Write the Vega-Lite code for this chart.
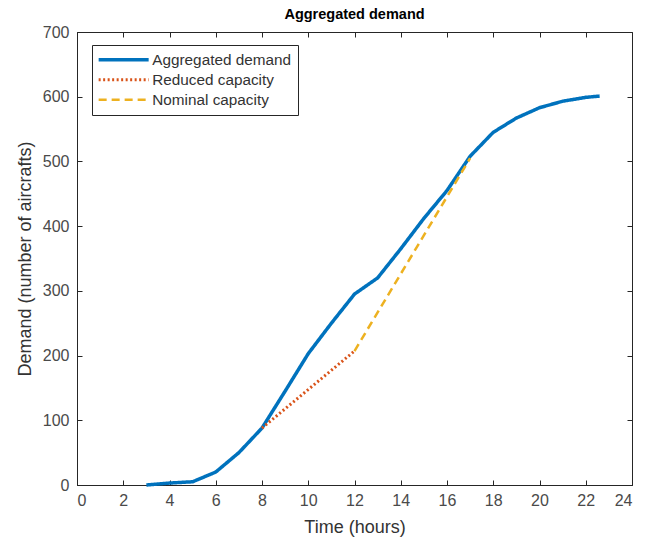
{
  "$schema": "https://vega.github.io/schema/vega-lite/v6.json",
  "autosize": {"type": "none"},
  "width": 555,
  "height": 453,
  "padding": {"left": 77, "top": 32, "right": 33, "bottom": 59},
  "background": "white",
  "title": {"text": "Aggregated demand", "font": "Liberation Sans", "fontSize": 14.5, "fontWeight": "bold", "color": "#000000", "offset": 2},
  "config": {
    "view": {"stroke": "#262626", "strokeWidth": 1},
    "axis": {"grid": false, "domainColor": "#262626", "tickColor": "#262626", "labelFont": "Liberation Sans", "titleFont": "Liberation Sans", "labelColor": "#4a4a4a", "titleColor": "#333333", "labelFontSize": 16, "titleFontSize": 18, "titleFontWeight": "normal", "tickSize": -5}
  },
  "data": {"values": [
    {"t": 3, "v": 0, "s": "Aggregated demand"},
    {"t": 4, "v": 3, "s": "Aggregated demand"},
    {"t": 5, "v": 5, "s": "Aggregated demand"},
    {"t": 6, "v": 20, "s": "Aggregated demand"},
    {"t": 7, "v": 50, "s": "Aggregated demand"},
    {"t": 8, "v": 88, "s": "Aggregated demand"},
    {"t": 9, "v": 145, "s": "Aggregated demand"},
    {"t": 10, "v": 203, "s": "Aggregated demand"},
    {"t": 11, "v": 250, "s": "Aggregated demand"},
    {"t": 12, "v": 295, "s": "Aggregated demand"},
    {"t": 13, "v": 320, "s": "Aggregated demand"},
    {"t": 14, "v": 365, "s": "Aggregated demand"},
    {"t": 15, "v": 412, "s": "Aggregated demand"},
    {"t": 16, "v": 455, "s": "Aggregated demand"},
    {"t": 17, "v": 508, "s": "Aggregated demand"},
    {"t": 18, "v": 545, "s": "Aggregated demand"},
    {"t": 19, "v": 567, "s": "Aggregated demand"},
    {"t": 20, "v": 583, "s": "Aggregated demand"},
    {"t": 21, "v": 593, "s": "Aggregated demand"},
    {"t": 22, "v": 599, "s": "Aggregated demand"},
    {"t": 22.6, "v": 601, "s": "Aggregated demand"},
    {"t": 8, "v": 88, "s": "Reduced capacity"},
    {"t": 12, "v": 207, "s": "Reduced capacity"},
    {"t": 12, "v": 207, "s": "Nominal capacity"},
    {"t": 17, "v": 505, "s": "Nominal capacity"}
  ]},
  "layer": [
    {
      "mark": {"type": "line", "strokeCap": "butt"},
      "encoding": {
        "x": {"field": "t", "type": "quantitative", "scale": {"domain": [0, 24], "nice": false}, "axis": {"values": [0,2,4,6,8,10,12,14,16,18,20,22,24], "title": "Time (hours)", "labelPadding": 12, "titlePadding": 10}},
        "y": {"field": "v", "type": "quantitative", "scale": {"domain": [0, 700], "nice": false}, "axis": {"values": [0,100,200,300,400,500,600,700], "title": "Demand (number of aircrafts)", "labelPadding": 13, "titlePadding": 8}},
        "detail": {"field": "s"},
        "color": {"field": "s", "type": "nominal", "scale": {"domain": ["Aggregated demand", "Reduced capacity", "Nominal capacity"], "range": ["#0072BD", "#D95319", "#EDB120"]},
          "legend": {"title": null, "orient": "none", "legendX": 15, "legendY": 13, "symbolType": "M-1.6,0H8.4", "symbolSize": 100, "symbolStrokeWidth": 3, "symbolFillColor": "transparent", "labelFont": "Liberation Sans", "labelFontSize": 15.3, "labelColor": "#333333", "strokeColor": "#262626", "fillColor": "white", "padding": 7, "rowPadding": 4, "labelOffset": 38}},
        "strokeDash": {"field": "s", "type": "nominal", "scale": {"domain": ["Aggregated demand", "Reduced capacity", "Nominal capacity"], "range": [[1, 0], [2, 2.5], [8, 5]]}},
        "strokeWidth": {"field": "s", "type": "nominal", "scale": {"domain": ["Aggregated demand", "Reduced capacity", "Nominal capacity"], "range": [3.5, 2.5, 2.5]}, "legend": null}
      }
    },
    {
      "mark": {"type": "point", "opacity": 0},
      "encoding": {
        "x": {"field": "t", "type": "quantitative", "scale": {"domain": [0, 24], "nice": false}, "axis": {"orient": "top", "values": [0,2,4,6,8,10,12,14,16,18,20,22,24], "labels": false, "title": null, "domain": false}},
        "y": {"field": "v", "type": "quantitative", "scale": {"domain": [0, 700], "nice": false}, "axis": {"orient": "right", "values": [0,100,200,300,400,500,600,700], "labels": false, "title": null, "domain": false}}
      }
    }
  ],
  "resolve": {"axis": {"x": "independent", "y": "independent"}}
}
